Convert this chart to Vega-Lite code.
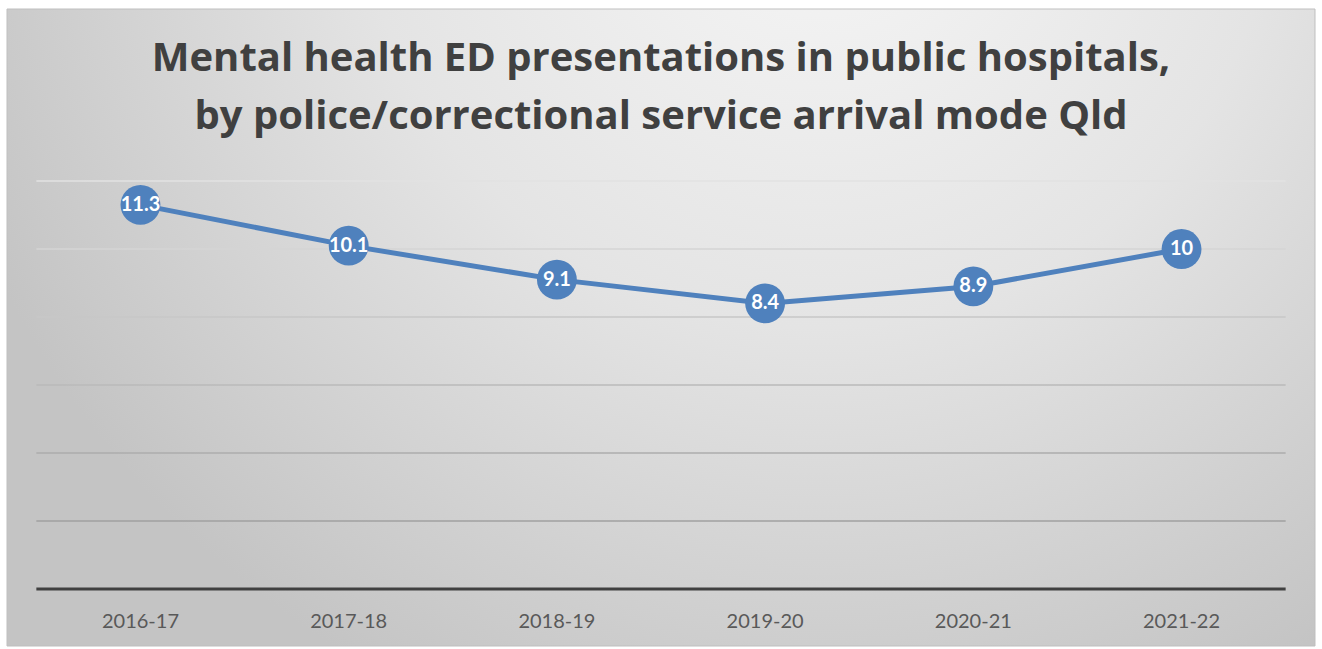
{
  "$schema": "https://vega.github.io/schema/vega-lite/v6.json",
  "width": 1308,
  "height": 637,
  "autosize": {"type": "pad"},
  "padding": {"left": 6, "top": 8, "right": 8, "bottom": 4},
  "background": "#ffffff",
  "config": {
    "view": {"stroke": null},
    "font": "Lato"
  },
  "title": {
    "text": ["Mental health ED presentations in public hospitals,", "by police/correctional service arrival mode Qld"],
    "font": "Open Sans",
    "fontSize": 40,
    "fontWeight": "bold",
    "color": "#404040",
    "anchor": "middle",
    "frame": "group",
    "baseline": "top",
    "lineHeight": 58,
    "offset": -128
  },
  "datasets": {
    "series": [
      {"year": "2016-17", "value": 11.3},
      {"year": "2017-18", "value": 10.1},
      {"year": "2018-19", "value": 9.1},
      {"year": "2019-20", "value": 8.4},
      {"year": "2020-21", "value": 8.9},
      {"year": "2021-22", "value": 10}
    ],
    "grid": [{"g": 2}, {"g": 4}, {"g": 6}, {"g": 8}, {"g": 10}, {"g": 12}],
    "base": [{"g": 0}],
    "bg": [{"k": 1}]
  },
  "layer": [
    {
      "data": {"name": "bg"},
      "mark": {
        "type": "rect",
        "stroke": "#bfbfbf",
        "strokeWidth": 1,
        "color": {
          "gradient": "radial",
          "x1": 0.62, "y1": 0.15, "r1": 0,
          "x2": 0.62, "y2": 0.15, "r2": 0.7,
          "stops": [
            {"offset": 0, "color": "#f7f7f7"},
            {"offset": 0.5, "color": "#e4e4e4"},
            {"offset": 1, "color": "#c4c4c4"}
          ]
        }
      },
      "encoding": {}
    },
    {
      "data": {"name": "grid"},
      "mark": {"type": "rule", "strokeWidth": 1.5},
      "encoding": {
        "y": {"field": "g", "type": "quantitative", "axis": null, "scale": {"domain": [-1.676, 17.06], "nice": false, "zero": false}},
        "x": {"datum": "2016-17", "type": "nominal", "bandPosition": 0, "title": null},
        "x2": {"datum": "2021-22", "bandPosition": 1},
        "color": {"field": "g", "type": "quantitative", "legend": null, "scale": {"domain": [2, 12], "range": ["#a0a0a0", "#e2e2e2"]}}
      }
    },
    {
      "data": {"name": "base"},
      "mark": {"type": "rule", "strokeWidth": 3, "color": "#404040"},
      "encoding": {
        "y": {"field": "g", "type": "quantitative", "axis": null},
        "x": {"datum": "2016-17", "type": "nominal", "bandPosition": 0, "title": null},
        "x2": {"datum": "2021-22", "bandPosition": 1}
      }
    },
    {
      "data": {"name": "series"},
      "mark": {"type": "line", "color": "#4f81bd", "strokeWidth": 5},
      "encoding": {
        "x": {
          "field": "year", "type": "nominal", "sort": null, "title": null,
          "scale": {"domain": ["2016-17", "2017-18", "2018-19", "2019-20", "2020-21", "2021-22"], "paddingInner": 0, "paddingOuter": 0.141},
          "axis": {"orient": "bottom", "offset": -57, "zindex": 1, "bandPosition": 0.5, "domain": false, "ticks": false, "grid": false, "labelAngle": 0, "labelAlign": "center", "labelFont": "Lato", "labelFontSize": 20, "labelColor": "#595959", "labelPadding": 32}
        },
        "y": {"field": "value", "type": "quantitative", "axis": null}
      }
    },
    {
      "data": {"name": "series"},
      "mark": {"type": "circle", "color": "#4f81bd", "opacity": 1, "size": 1590},
      "encoding": {
        "x": {"field": "year", "type": "nominal", "sort": null, "title": null},
        "y": {"field": "value", "type": "quantitative", "axis": null}
      }
    },
    {
      "data": {"name": "series"},
      "mark": {"type": "text", "color": "#ffffff", "font": "Lato", "fontSize": 20, "fontWeight": "bold", "align": "center", "baseline": "middle"},
      "encoding": {
        "x": {"field": "year", "type": "nominal", "sort": null, "title": null},
        "y": {"field": "value", "type": "quantitative", "axis": null},
        "text": {"field": "value", "type": "quantitative"}
      }
    }
  ]
}
